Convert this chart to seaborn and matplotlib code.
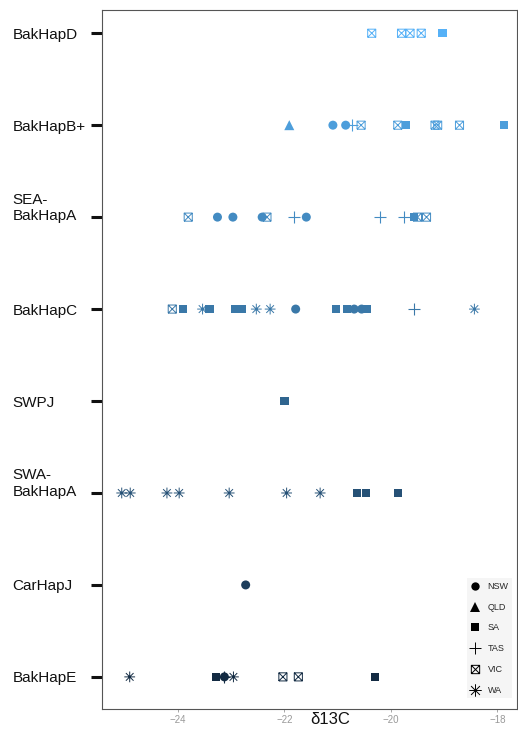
import matplotlib
matplotlib.use('Agg')
import matplotlib.pyplot as plt
from matplotlib.path import Path
from matplotlib.lines import Line2D
from matplotlib.transforms import ScaledTranslation
import seaborn as sns
import pandas as pd

# haplotypes, top to bottom
haplotypes = ['BakHapD', 'BakHapB+', 'SEA-BakHapA', 'BakHapC', 'SWPJ',
              'SWA-BakHapA', 'CarHapJ', 'BakHapE']
hap_ticklabels = ['BakHapD', 'BakHapB+', 'SEA-\nBakHapA', 'BakHapC', 'SWPJ',
                  'SWA-\nBakHapA', 'CarHapJ', 'BakHapE']
hap_colors = ['#56B1F7', '#4D9EDB', '#438BC2', '#3A78A8', '#30658F',
              '#265176', '#1D3E5C', '#132B43']
states = ['NSW', 'QLD', 'SA', 'TAS', 'VIC', 'WA']

# d13C values and state for each haplotype
bakhapD_d13c = [-20.36, -19.80, -19.64, -19.43, -19.03]
bakhapD_state = ['VIC', 'VIC', 'VIC', 'VIC', 'SA']

bakhapB_d13c = [-21.91, -21.09, -20.85, -20.74, -20.56, -19.87, -19.71,
                -19.17, -19.12, -18.71, -17.87]
bakhapB_state = ['QLD', 'NSW', 'NSW', 'TAS', 'VIC', 'VIC', 'SA',
                 'VIC', 'VIC', 'VIC', 'SA']

sea_d13c = [-23.81, -23.26, -22.97, -22.42, -22.33, -21.83, -21.59,
            -20.20, -19.76, -19.50, -19.56, -19.33]
sea_state = ['VIC', 'NSW', 'NSW', 'NSW', 'VIC', 'TAS', 'NSW',
             'TAS', 'TAS', 'VIC', 'SA', 'VIC']

bakhapC_d13c = [-24.11, -23.90, -23.54, -23.41, -22.93, -22.80, -22.53,
                -22.27, -21.79, -21.03, -20.83, -20.69, -20.55,
                -20.45, -19.56, -18.43]
bakhapC_state = ['VIC', 'SA', 'WA', 'SA', 'SA', 'SA', 'WA',
                 'WA', 'NSW', 'SA', 'SA', 'NSW', 'NSW',
                 'SA', 'TAS', 'WA']

swpj_d13c = [-22.00]
swpj_state = ['SA']

swa_d13c = [-25.06, -24.90, -24.21, -23.98, -23.04, -21.96, -21.33,
            -20.64, -20.47, -19.87]
swa_state = ['WA', 'WA', 'WA', 'WA', 'WA', 'WA', 'WA', 'SA', 'SA', 'SA']

carhapJ_d13c = [-22.73]
carhapJ_state = ['NSW']

bakhapE_d13c = [-24.91, -23.29, -23.13, -23.13, -22.96, -22.03, -21.74, -20.30]
bakhapE_state = ['WA', 'SA', 'NSW', 'TAS', 'WA', 'VIC', 'VIC', 'SA']

hap_values = [bakhapD_d13c, bakhapB_d13c, sea_d13c, bakhapC_d13c,
              swpj_d13c, swa_d13c, carhapJ_d13c, bakhapE_d13c]
hap_states = [bakhapD_state, bakhapB_state, sea_state, bakhapC_state,
              swpj_state, swa_state, carhapJ_state, bakhapE_state]

rows = []
for h, vals, sts in zip(haplotypes, hap_values, hap_states):
    for v, s in zip(vals, sts):
        rows.append({'hap': h, 'd13C': v, 'state': s})
df = pd.DataFrame(rows)
df['hap'] = pd.Categorical(df['hap'], categories=haplotypes)

# ggplot-like shapes: boxed x (VIC) and asterisk (WA)
M, L = Path.MOVETO, Path.LINETO
box_x = Path([(-1, -1), (1, -1), (1, 1), (-1, 1), (-1, -1),
              (-1, -1), (1, 1), (-1, 1), (1, -1)],
             [M, L, L, L, L, M, L, M, L])
asterisk = Path([(-1, 0), (1, 0), (0, -1), (0, 1),
                 (-0.71, -0.71), (0.71, 0.71), (-0.71, 0.71), (0.71, -0.71)],
                [M, L] * 4)

shape_kw = {
    'NSW': dict(marker='o', s=42, linewidth=0, edgecolor='none'),
    'QLD': dict(marker='^', s=52, linewidth=0, edgecolor='none'),
    'SA': dict(marker='s', s=34, linewidth=0, edgecolor='none'),
    'TAS': dict(marker='+', s=75, linewidth=0.8),
    'VIC': dict(marker=box_x, s=34, linewidth=0.7, facecolor='none'),
    'WA': dict(marker=asterisk, s=60, linewidth=0.7, facecolor='none'),
}
legend_marker = {'NSW': 'o', 'QLD': '^', 'SA': 's', 'TAS': '+', 'VIC': box_x, 'WA': asterisk}
legend_ms = {'NSW': 6, 'QLD': 7, 'SA': 5.5, 'TAS': 9, 'VIC': 6, 'WA': 9}

sns.set_style('white')
plt.rcParams['font.family'] = ['Liberation Sans', 'DejaVu Sans']

fig = plt.figure(figsize=(5.18, 7.31), dpi=100)
ax = fig.add_axes([0.197, 0.030, 0.802, 0.956])

for st in states:
    for h, col in zip(haplotypes, hap_colors):
        sub = df[(df['state'] == st) & (df['hap'] == h)]
        if sub.empty:
            continue
        kw = dict(shape_kw[st])
        if st in ('VIC', 'WA'):
            kw['edgecolor'] = col
        sns.scatterplot(data=sub, x='d13C', y='hap', color=col, ax=ax,
                        legend=False, zorder=3, **kw)

ax.set_xlim(-25.43, -17.62)
ax.set_ylim(7.35, -0.25)
ax.set_xticks([-24, -22, -20, -18])
ax.set_yticks(range(len(haplotypes)))
ax.set_yticklabels(hap_ticklabels, fontsize=11, ha='left', color='#111111')
ax.set_ylabel('')
ax.tick_params(axis='y', length=7.9, width=2.2, color='#111111', pad=56.4, left=True)
ax.tick_params(axis='x', length=2.5, width=0.6, color='#999999',
               labelsize=7, labelcolor='#999999', pad=2, bottom=True)
for lab, txt in zip(ax.get_yticklabels(), hap_ticklabels):
    if '\n' in txt:
        lab.set_transform(lab.get_transform() +
                          ScaledTranslation(0, 0.12, fig.dpi_scale_trans))

for sp in ax.spines.values():
    sp.set_color('#555555')
    sp.set_linewidth(0.8)

ax.set_xlabel('δ13C', fontsize=12, color='#111111')
ax.xaxis.set_label_coords(0.549, -0.004)

handles = []
for st in states:
    mfc = 'none' if st in ('VIC', 'WA') else 'black'
    handles.append(Line2D([], [], marker=legend_marker[st], linestyle='none',
                          color='black', markerfacecolor=mfc,
                          markeredgewidth=0.7 if st in ('TAS', 'VIC', 'WA') else 0,
                          markersize=legend_ms[st], label=st))
leg = ax.legend(handles=handles, loc='upper left', bbox_to_anchor=(0.878, 0.187),
                fontsize=6.5, frameon=True, facecolor='#f5f5f5', edgecolor='none',
                framealpha=1, handlelength=1.0, handletextpad=0.9,
                labelspacing=1.3, borderpad=0.4, borderaxespad=0)
leg.get_frame().set_boxstyle('square', pad=0)

fig.savefig('out.png', dpi=100)
